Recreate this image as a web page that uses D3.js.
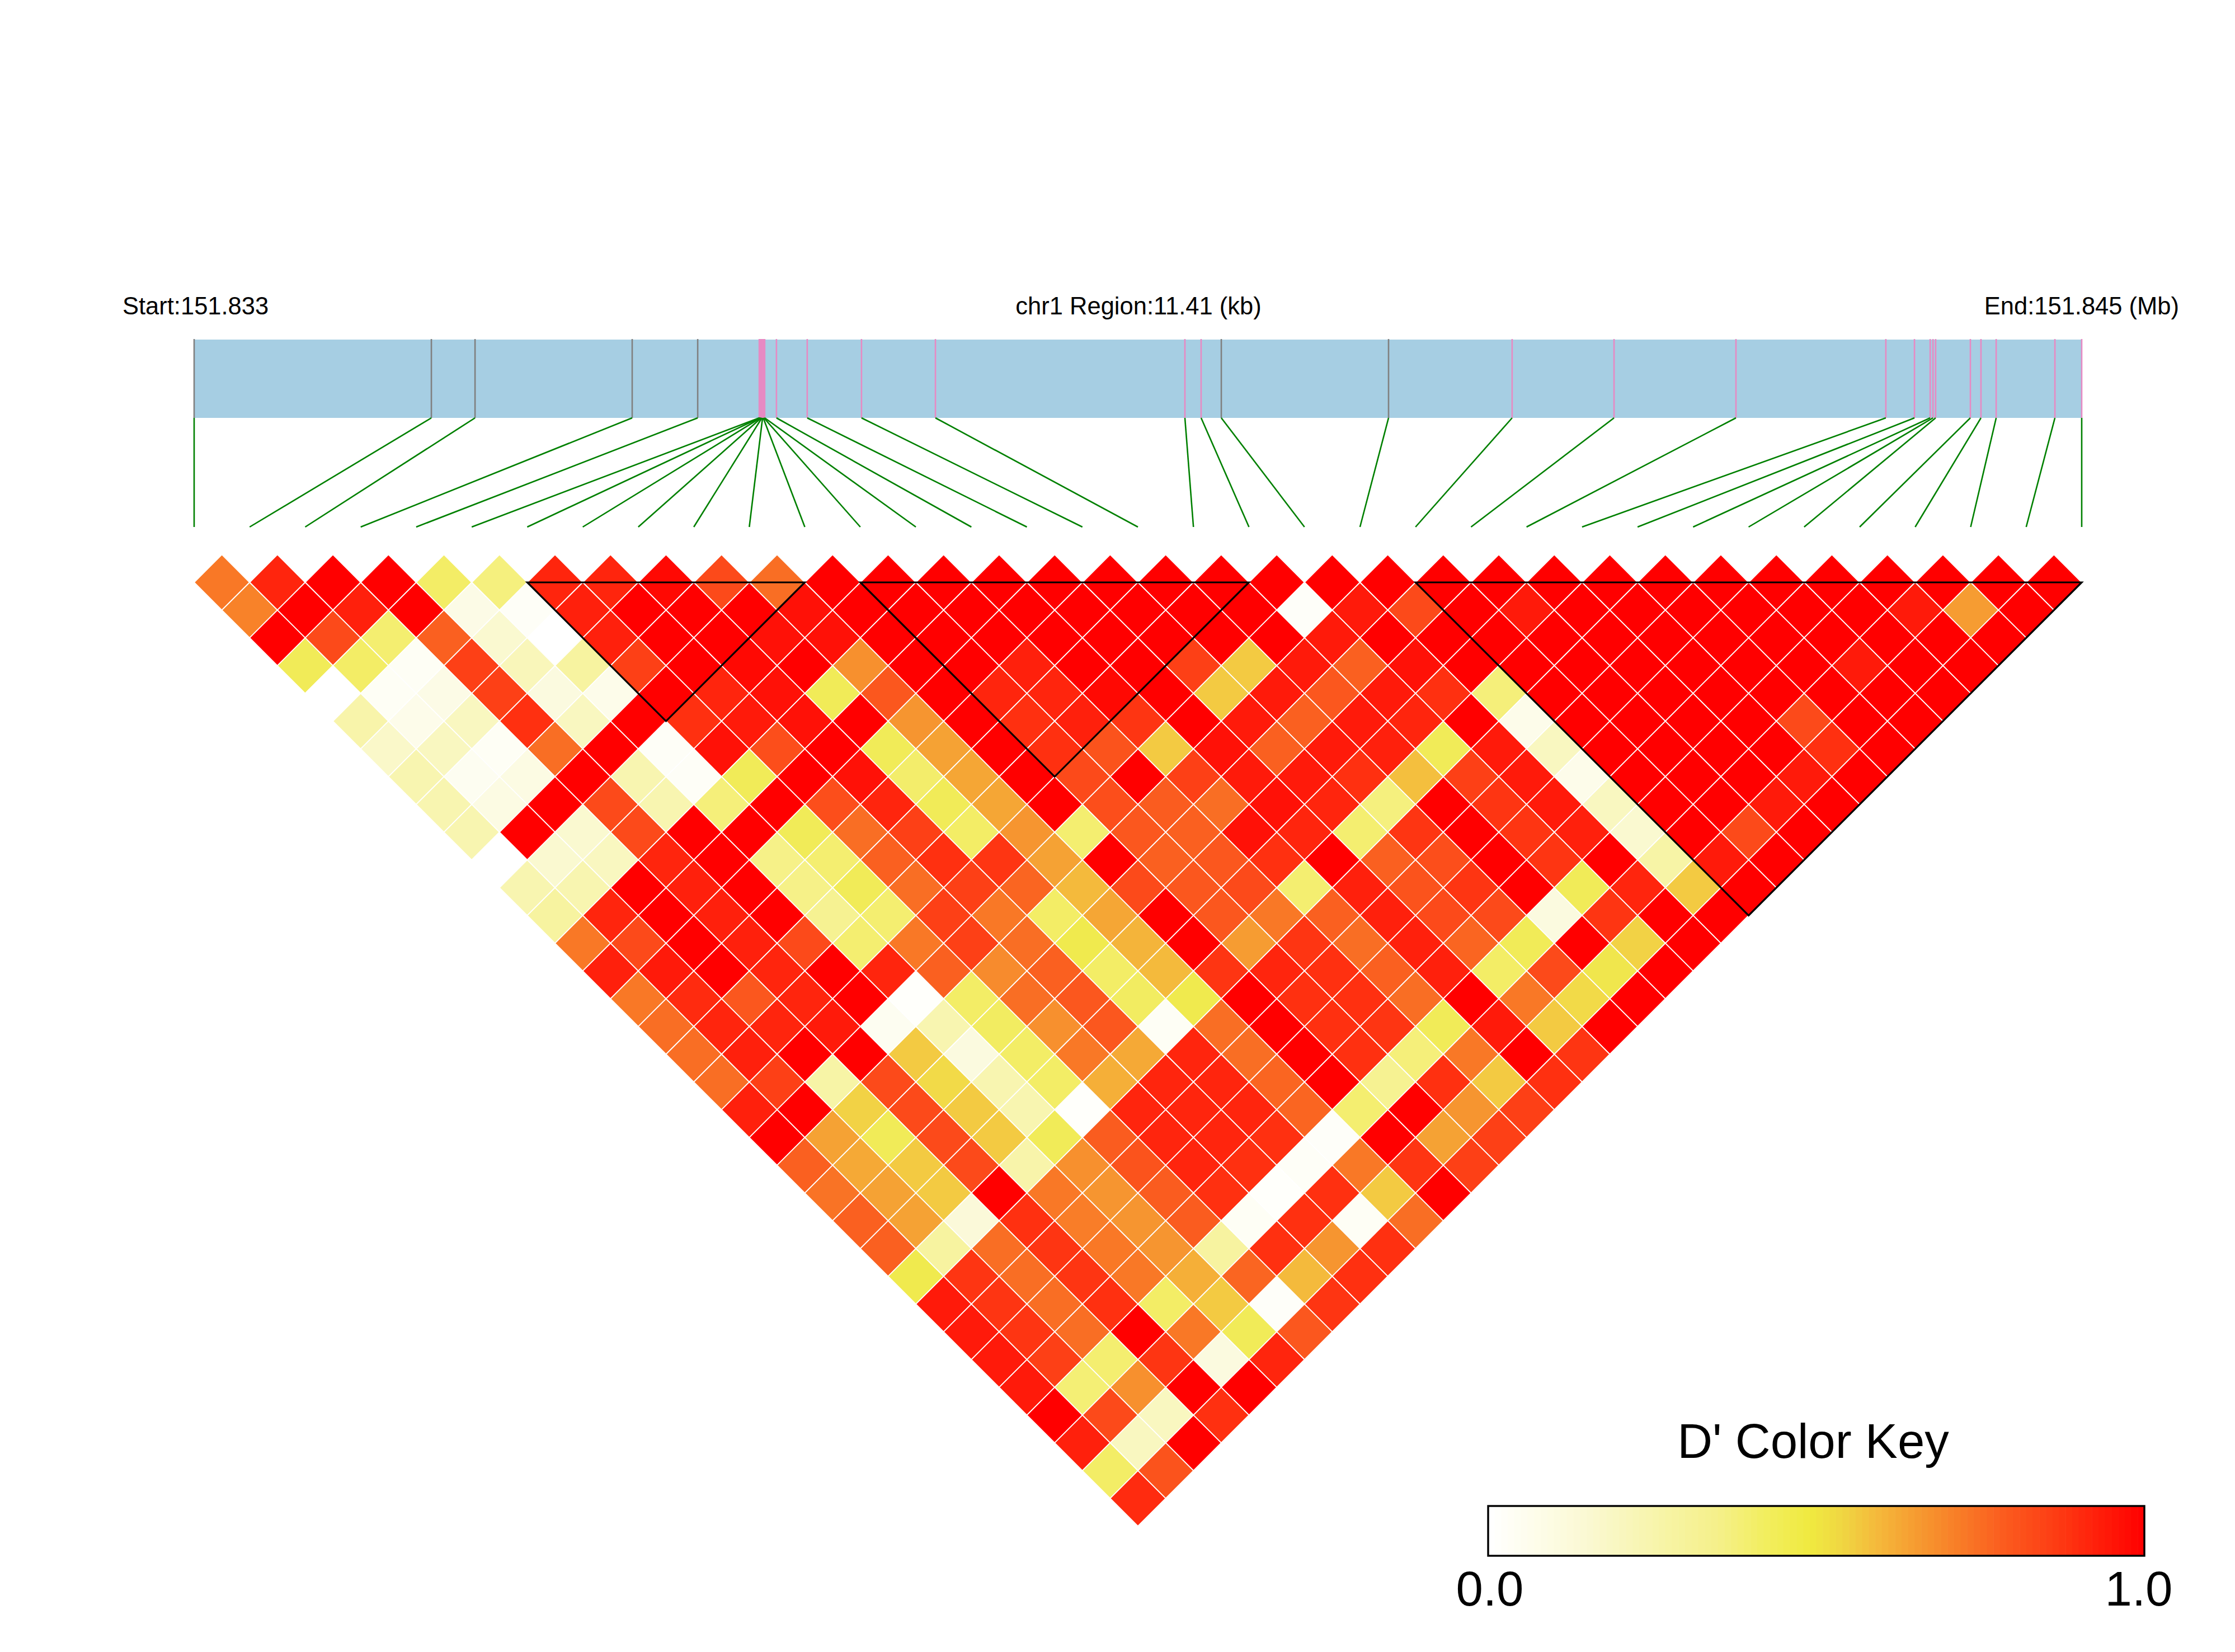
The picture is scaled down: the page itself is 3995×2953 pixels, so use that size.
<!DOCTYPE html>
<html><head><meta charset="utf-8">
<script src="https://cdn.jsdelivr.net/npm/d3@7"></script>
<style>html,body{margin:0;padding:0;background:#fff}svg{display:block}text{font-family:"Liberation Sans",Arial,sans-serif;fill:#000}</style>
</head><body><div id="chart"></div>
<script>
// SNP positions, bp offset from region start
const snpPositions=[0,1434,1698,2648,3044,3416,3420,3424,3428,3432,3436,3440,3444,3449,3520,3706,4034,4481,5989,6087,6209,7220,7967,8583,9320,10226,10399,10494,10511,10527,10737,10801,10893,11248,11410];
const greyMarkers=[0,1,2,3,4,20,21];
const regionLength=11410;
// LD blocks: first and last SNP index
const ldBlocks=[[6,11],[12,19],[22,34]];
// D' values: dPrime[k][i] is the pair (SNP i, SNP i+k+1)
const dPrime=[
[.78,.95,1,1,.47,.42,.95,.95,.99,.88,.8,1,1,1,1,1,1,1,1,1,1,1,1,1,1,1,1,1,1,1,1,1,1,1],
[.76,1,.96,1,.12,.04,.96,1,1,1,.98,1,1,1,1,1,1,1,1,.03,.97,.88,1,.97,1,1,1,1,1,1,.97,.7,1],
[1,.88,.45,.83,.2,0,.96,1,1,.98,.98,1,1,1,1,1,1,1,1,.97,1,1,1,1,1,1,1,1,1,1,1,1],
[.5,.47,.05,.9,.27,.35,.9,1,.99,1,.73,1,1,.96,1,1,.9,.6,.97,.83,.98,1,1,1,1,1,1,1,.97,1,1],
[0,.05,.12,.9,.15,.1,1,.95,.98,.5,.85,1,.95,.95,.99,1,.6,.97,.85,.97,.93,.43,1,1,1,1,1,1,1,1],
[.32,.1,.25,.93,.25,1,.93,.97,.98,1,.72,1,.93,.96,.92,1,.97,.83,.97,.95,1,.1,1,1,1,1,.88,1,1],
[.22,.25,.05,.8,1,.04,.98,.87,1,.5,.68,1,.93,.86,.6,.98,.83,.97,.96,.5,.97,.25,1,1,1,1,.93,1],
[.3,.07,.13,1,.3,.04,.5,1,.98,.46,.67,1,.88,1,.9,.97,.97,.93,.62,.9,.97,.1,1,1,1,.97,1],
[.3,.13,1,.88,.3,.43,1,.87,.95,.5,.67,1,.87,.84,.8,.98,.95,.42,1,.92,.97,.25,1,1,.97,1],
[.3,1,.2,.88,1,1,.5,.8,.9,.47,.72,.45,.85,.83,.98,.95,.45,.92,1,.92,.96,.2,1,.88,1],
[0,.2,.25,.95,1,.4,.45,.83,.93,.92,.68,1,.83,.85,.93,1,.83,.87,1,.92,1,.33,.97,1],
[.3,.3,1,.96,1,.4,.5,.8,.9,.82,.63,.88,.85,.88,.45,.96,.86,.92,1,.5,.95,.6,1],
[.35,.95,1,.96,1,.38,.45,.9,.78,.47,.67,1,.85,.78,.83,.96,.88,.88,.15,.92,1,1],
[.78,.88,1,.96,.88,.45,.78,.9,.8,.52,.64,1,.7,.92,.8,.96,.82,.5,1,.58,1],
[.96,.97,1,.95,1,.95,.83,.74,.83,.47,.63,.92,.95,.93,.83,.96,.47,.88,.53,1],
[.78,.94,.85,.95,1,.02,.47,.8,.85,.48,.52,1,.93,.93,.8,1,.78,.56,1],
[.8,.95,.95,.97,.07,.3,.48,.73,.85,.05,.8,1,.93,.92,.5,.97,.6,1],
[.8,.96,1,1,.6,.15,.47,.78,.66,.95,.8,1,.93,.43,.78,1,.92],
[.8,.9,.33,.88,.56,.3,.47,.65,.95,.95,.82,1,.38,.93,.6,.93],
[.96,1,.58,.88,.6,.3,.02,.95,.95,.95,.82,.45,1,.72,.9],
[1,.68,.5,.88,.6,.5,.84,.95,.95,.93,.03,1,.68,.9],
[.83,.66,.6,.88,.32,.73,.86,.95,.93,.04,.78,.92,.9],
[.79,.68,.6,1,.78,.72,.84,.93,.02,.93,.6,1],
[.83,.68,.17,.93,.77,.72,.84,.05,.93,.05,.8],
[.83,.35,.8,.92,.78,.72,.35,.93,.72,.93],
[.52,.92,.8,.92,.78,.65,.82,.63,.93],
[.97,.92,.8,.93,.47,.6,.03,.92],
[.97,.92,.8,1,.78,.5,.85],
[.97,.9,.45,.92,.15,.95],
[.97,.44,.73,1,1],
[1,.88,.25,.93],
[.96,.25,1],
[.47,.86],
[.94]
];
const colorDomain=[0,.05,.15,.25,.35,.45,.52,.6,.66,.72,.78,.83,.88,.93,.97,1];
const colorRange=["#FFFFFF","#FEFEF5","#FBFADF","#F9F7C0","#F7F3A0","#F4EE70","#F0EA4E","#F3CA42","#F5A936","#F69530","#F97826","#FA6020","#FC4A1A","#FF3010","#FF1A0A","#FF0000"];
const keyDomain=[0,.07,.16,.27,.35,.42,.49,.54,.6,.655,.71,.79,.86,.93,1];
const keyRange=["#FFFFFF","#FEFDEB","#FAF8CF","#F7F4A5","#F5F08A","#F2EE60","#F0EA40","#F0D642","#F5B53A","#F69A30","#F88028","#FB5A1E","#FD3E14","#FF1E0A","#FF0000"];
const keySteps=d3.range(0,100);
const keyTicks=["0.0","1.0"];
const titles={start:"Start:151.833",mid:"chr1 Region:11.41 (kb)",end:"End:151.845 (Mb)",key:"D' Color Key"};

const W=3995,H=2953;
const svg=d3.select("#chart").append("svg").attr("width",W).attr("height",H).attr("viewBox",[0,0,W,H]);
svg.append("rect").attr("width",W).attr("height",H).attr("fill","#fff");
const n=snpPositions.length;
const L=347,R=3721,step=(R-L)/(n-1);
const xIdx=d3.scaleLinear().domain([0,n-1]).range([L,R]);
const xPos=d3.scaleLinear().domain([0,regionLength]).range([L,R]);
const yLev=d3.scaleLinear().domain([1,n-1]).range([1041,1041+(n-2)*step/2]);
const color=d3.scaleLinear().domain(colorDomain).range(colorRange);
const keyColor=d3.scaleLinear().domain(keyDomain).range(keyRange);
const line=d3.line();

// header labels
const hdr=svg.append("g").attr("font-size",43.5);
hdr.append("text").attr("x",219).attr("y",562).text(titles.start);
hdr.append("text").attr("x",2035).attr("y",562).attr("text-anchor","middle").text(titles.mid);
hdr.append("text").attr("x",3895).attr("y",562).attr("text-anchor","end").text(titles.end);

// gene bar
svg.append("rect").attr("x",L).attr("y",607).attr("width",R-L).attr("height",140).attr("fill","#A6CEE3");
svg.append("g").selectAll("line").data(snpPositions).join("line")
 .attr("x1",d=>xPos(d)).attr("x2",d=>xPos(d)).attr("y1",606).attr("y2",747)
 .attr("stroke",(d,i)=>greyMarkers.includes(i)?"#808080":"#E78AC3").attr("stroke-width",2.6);
// connectors
svg.append("g").selectAll("line").data(snpPositions).join("line")
 .attr("x1",d=>xPos(d)).attr("y1",747).attr("x2",(d,i)=>xIdx(i)).attr("y2",942)
 .attr("stroke","#008000").attr("stroke-width",2.6);

// LD cells
const cells=dPrime.flatMap((row,k)=>row.map((v,i)=>({i,d:k+1,v})));
svg.append("g").selectAll("path").data(cells).join("path")
 .attr("d",c=>{const cx=xIdx(c.i+c.d/2),cy=yLev(c.d),h=step/2;
   return line([[cx,cy-h],[cx+h,cy],[cx,cy+h],[cx-h,cy]])+"Z";})
 .attr("fill",c=>color(c.v)).attr("stroke","#fff").attr("stroke-width",1.8);

// LD blocks
svg.append("g").selectAll("path").data(ldBlocks).join("path")
 .attr("d",([a,b])=>line([[xIdx(a),yLev(1)],[xIdx(b),yLev(1)],[xIdx((a+b)/2),yLev(1+(b-a))]])+"Z")
 .attr("fill","none").attr("stroke","#000").attr("stroke-width",3.2);

// colour key
const kx=d3.scaleLinear().domain([0,100]).range([2660,3833]);
const kTop=2692,kBot=2781;
svg.append("g").selectAll("rect").data(keySteps).join("rect")
 .attr("x",d=>kx(d)).attr("y",kTop).attr("width",kx(1)-kx(0)+.6).attr("height",kBot-kTop)
 .attr("fill",d=>keyColor((d+.5)/100));
svg.append("rect").attr("x",kx(0)).attr("y",kTop).attr("width",kx(100)-kx(0)).attr("height",kBot-kTop)
 .attr("fill","none").attr("stroke","#000").attr("stroke-width",3.4);
svg.append("text").attr("x",3241).attr("y",2606).attr("text-anchor","middle").attr("font-size",87).text(titles.key);
svg.append("text").attr("x",2663).attr("y",2870).attr("text-anchor","middle").attr("font-size",87).text(keyTicks[0]);
svg.append("text").attr("x",3823).attr("y",2870).attr("text-anchor","middle").attr("font-size",87).text(keyTicks[1]);
</script></body></html>
